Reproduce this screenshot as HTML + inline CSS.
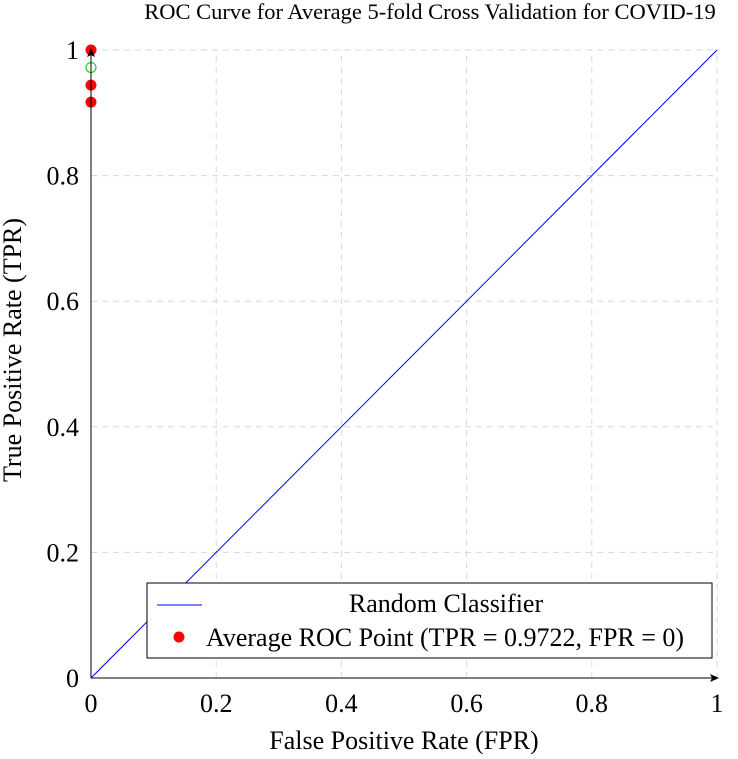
<!DOCTYPE html>
<html><head><meta charset="utf-8"><style>
body{margin:0;background:#fff}
svg text{font-family:"Liberation Serif",serif;fill:#000}
</style></head><body>
<svg width="738" height="754">
<g id="grid"></g>
<g id="marks"></g>
<g id="axes"></g>
<text x="430" y="19" font-size="22.5" text-anchor="middle">ROC Curve for Average 5-fold Cross Validation for COVID-19</text>
<text x="404" y="749" font-size="26" text-anchor="middle">False Positive Rate (FPR)</text>
<text transform="translate(21,350) rotate(-90)" font-size="26" text-anchor="middle">True Positive Rate (TPR)</text>
<g>
<rect x="147" y="583" width="565" height="75" fill="#fff" stroke="#000" stroke-width="1"/>
<line x1="157" y1="605" x2="202" y2="605" stroke="#00f" stroke-width="1"/>
<text x="446" y="612" font-size="26" text-anchor="middle">Random Classifier</text>
<circle cx="179" cy="637" r="5.5" fill="#f00"/>
<text x="206" y="646" font-size="26">Average ROC Point (TPR = 0.9722, FPR = 0)</text>
</g>
</svg>
<script>
const ticks=[0,0.2,0.4,0.6,0.8,1];
const tickLabels=["0","0.2","0.4","0.6","0.8","1"];
const randomX=[0,1];
const randomY=[0,1];
const redFPR=[0,0,0];
const redTPR=[1.0,0.944,0.917];
const avgFPR=[0];
const avgTPR=[0.9722];
const X=v=>91+v*626, Y=v=>678-v*628;
const NS="http://www.w3.org/2000/svg";
function mk(p,t,a){const e=document.createElementNS(NS,t);for(const k in a)e.setAttribute(k,a[k]);p.appendChild(e);return e;}
const g=document.getElementById('grid'),m=document.getElementById('marks'),ax=document.getElementById('axes');
ticks.forEach((t,i)=>{
 if(t>0){const l=mk(g,'line',{x1:X(t),x2:X(t),y1:Y(0),y2:Y(1),stroke:'#d8d8d8','stroke-dasharray':'6,5'});
 
 
 const l2=mk(g,'line',{x1:X(0),x2:X(1),y1:Y(t),y2:Y(t),stroke:'#d8d8d8','stroke-dasharray':'6,5'});
 
 }
 const tx=mk(ax,'text',{x:X(t),y:712,'font-size':26,'text-anchor':'middle'});tx.textContent=tickLabels[i];
 
 
 const ty=mk(ax,'text',{x:79,y:Y(t)+9,'font-size':26,'text-anchor':'end'});ty.textContent=tickLabels[i];
 
 
});
const xa=mk(ax,'line',{x1:X(0),x2:X(1)-3,y1:Y(0),y2:Y(0),stroke:'#000'});


const ar=mk(ax,'path',{d:`M${X(1)+2},${Y(0)} l-9,-4 l2,4 l-2,4 z`,fill:'#000'});


const ya=mk(ax,'line',{x1:X(0),x2:X(0),y1:Y(0),y2:Y(1)+3,stroke:'#000'});


const yr=mk(ax,'path',{d:`M${X(0)},${Y(1)-2} l-4,9 l4,-2 l4,2 z`,fill:'#000'});


const rl=mk(m,'line',{x1:X(randomX[0]),y1:Y(randomY[0]),x2:X(randomX[1]),y2:Y(randomY[1]),stroke:'#00f','stroke-width':1});


redFPR.forEach((f,i)=>{const c=mk(m,'circle',{cx:X(f),cy:Y(redTPR[i]),r:5.5,fill:'#f00'});
 
 });
avgFPR.forEach((f,i)=>{const c=mk(m,'circle',{cx:X(f),cy:Y(avgTPR[i]),r:5,fill:'none',stroke:'#0c0','stroke-width':1});
 
 });
</script>
</body></html>
